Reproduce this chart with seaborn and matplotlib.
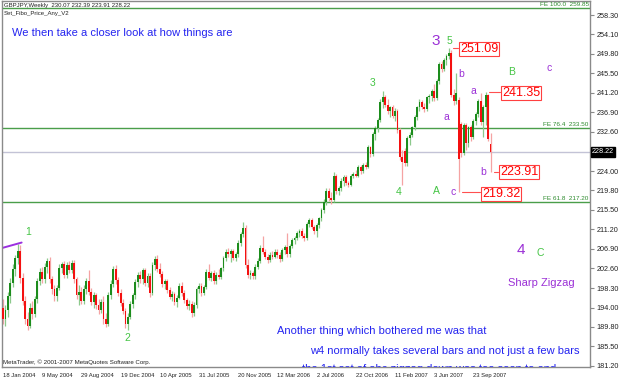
import numpy as np
import pandas as pd
import matplotlib
matplotlib.use("Agg")
import matplotlib.pyplot as plt
import seaborn as sns

# GBPJPY weekly candles, 18 Jan 2004 .. Nov 2007
opens = [194.0, 191.5, 193.5, 196.5, 199.5, 202.5, 204.8, 206.5, 200.5, 195.5,
         191.5, 190.0, 194.0, 192.5, 195.8, 199.8, 201.8, 200.2, 203.0, 204.3,
         200.3, 198.0, 196.5, 198.3, 202.8, 203.5, 201.2, 203.3, 202.2, 203.8,
         200.3, 196.8, 197.5, 195.5, 198.2, 199.8, 197.5, 195.2, 196.8, 194.5,
         193.5, 195.3, 191.5, 190.5, 196.8, 199.3, 202.5, 200.0, 197.3, 195.0,
         193.2, 190.3, 192.0, 194.8, 196.8, 199.6, 201.2, 200.2, 202.2, 199.5,
         200.9, 197.2, 203.3, 204.6, 202.4, 201.4, 199.2, 199.8, 197.8, 196.4,
         197.0, 195.2, 196.2, 198.8, 197.2, 195.6, 194.4, 194.9, 192.8, 194.6,
         198.0, 198.8, 197.2, 198.6, 201.8, 200.6, 201.6, 199.8, 201.2, 200.8,
         202.6, 204.8, 206.2, 205.8, 206.4, 205.0, 205.8, 208.2, 210.2, 211.6,
         203.4, 201.2, 201.6, 200.9, 203.0, 204.2, 207.2, 206.2, 205.2, 204.4,
         205.6, 205.2, 206.2, 205.6, 204.6, 206.6, 207.4, 205.8, 207.6, 208.8,
         209.4, 210.4, 210.8, 209.8, 209.2, 212.4, 213.2, 211.8, 210.8, 212.2,
         213.6, 215.4, 217.2, 219.6, 218.0, 217.6, 223.0, 219.6, 220.2, 221.8,
         222.6, 221.4, 221.0, 223.0, 223.4, 223.0, 225.0, 224.0, 225.4, 225.0,
         229.2, 227.8, 232.2, 233.4, 235.2, 239.2, 240.2, 238.6, 237.2, 238.0,
         236.2, 237.2, 233.0, 227.0, 228.4, 225.8, 231.2, 232.0, 233.6, 235.8,
         238.0, 239.2, 238.2, 237.6, 240.2, 240.6, 241.6, 240.0, 243.8, 247.6,
         246.4, 248.4, 249.2, 250.0, 240.8, 239.4, 239.6, 234.4, 228.0, 234.2,
         230.2, 233.6, 231.4, 235.0, 236.6, 239.4, 234.8, 238.0, 240.8, 230.07]
highs = [196.0, 194.5, 197.5, 200.5, 203.5, 205.5, 208.0, 207.8, 201.5, 196.5,
         193.0, 195.0, 195.5, 196.5, 200.5, 202.8, 203.0, 203.8, 205.0, 205.2,
         201.0, 199.0, 199.0, 203.5, 204.0, 204.2, 204.0, 204.2, 204.5, 204.5,
         200.8, 199.0, 198.5, 199.0, 200.5, 202.2, 198.3, 197.5, 197.3, 196.0,
         196.0, 196.5, 192.8, 197.5, 200.0, 203.2, 203.4, 200.8, 198.0, 196.0,
         194.0, 192.8, 195.5, 197.3, 200.3, 201.8, 202.0, 202.8, 202.6, 201.5,
         201.5, 204.0, 205.3, 205.5, 203.8, 202.0, 200.4, 200.2, 198.6, 197.6,
         197.4, 196.8, 199.4, 199.6, 197.8, 196.2, 195.6, 195.4, 195.2, 198.6,
         199.4, 199.4, 199.0, 202.4, 203.6, 202.0, 202.2, 201.8, 202.4, 203.0,
         205.4, 206.8, 207.2, 206.8, 206.8, 206.2, 208.8, 210.6, 212.8, 212.2,
         204.6, 202.2, 202.0, 203.6, 204.8, 207.8, 209.8, 206.8, 205.8, 206.2,
         206.4, 206.8, 206.8, 206.2, 207.0, 207.8, 210.4, 208.0, 209.4, 209.8,
         210.8, 211.2, 211.4, 210.4, 212.8, 213.8, 213.6, 212.2, 212.6, 214.0,
         215.8, 217.8, 220.2, 220.2, 219.4, 223.8, 223.4, 220.8, 222.4, 223.2,
         223.2, 221.8, 223.4, 223.8, 224.2, 225.4, 225.4, 225.8, 226.0, 229.8,
         229.6, 232.6, 234.0, 235.6, 239.8, 241.6, 240.8, 239.8, 238.4, 238.6,
         237.8, 237.6, 233.4, 228.6, 229.0, 231.8, 232.6, 234.0, 236.4, 238.4,
         239.8, 239.6, 239.0, 240.6, 241.0, 242.0, 243.2, 244.2, 248.0, 248.2,
         248.8, 249.8, 251.09, 250.6, 242.0, 245.5, 240.2, 234.8, 234.6, 234.6,
         234.0, 234.2, 235.4, 237.0, 239.8, 241.1, 238.6, 241.35, 241.0, 232.39]
lows = [190.3, 190.0, 192.0, 195.0, 198.5, 201.0, 203.5, 199.5, 194.5, 190.5,
        189.0, 189.5, 191.5, 192.0, 195.0, 199.0, 199.5, 199.5, 201.5, 199.5,
        197.0, 195.5, 195.5, 197.8, 201.5, 200.5, 200.5, 201.5, 201.5, 199.5,
        196.0, 194.5, 194.8, 194.8, 197.0, 196.8, 194.5, 194.0, 193.8, 192.5,
        192.8, 190.5, 189.8, 190.0, 196.0, 198.5, 199.3, 196.5, 194.3, 192.5,
        189.5, 189.0, 191.5, 194.0, 196.0, 198.5, 199.5, 199.3, 198.8, 198.5,
        196.3, 196.8, 202.3, 201.8, 200.8, 198.6, 198.0, 197.2, 195.8, 195.4,
        194.6, 194.2, 195.8, 196.6, 195.0, 193.8, 193.4, 192.0, 192.2, 194.0,
        197.2, 196.6, 196.8, 198.0, 200.0, 199.8, 199.2, 199.2, 200.2, 200.4,
        202.0, 204.2, 205.2, 204.0, 204.4, 204.2, 205.2, 207.6, 209.6, 202.8,
        200.6, 200.2, 200.4, 200.4, 202.4, 203.8, 205.8, 204.6, 203.8, 204.0,
        204.6, 204.8, 205.0, 204.0, 204.2, 205.8, 205.2, 205.2, 207.0, 208.0,
        208.8, 209.6, 209.2, 208.6, 208.8, 211.8, 211.2, 210.2, 209.6, 211.6,
        213.0, 214.8, 216.6, 217.4, 216.8, 217.2, 219.0, 218.8, 219.6, 220.8,
        221.0, 220.6, 220.8, 222.4, 222.6, 222.6, 223.4, 223.6, 224.4, 224.6,
        227.2, 227.4, 230.8, 232.6, 234.8, 237.8, 238.0, 236.6, 235.8, 235.6,
        235.0, 232.4, 226.4, 220.9, 225.2, 225.2, 229.8, 231.4, 233.0, 235.2,
        237.2, 237.6, 237.0, 237.2, 239.0, 239.4, 239.4, 239.6, 243.2, 245.8,
        246.0, 247.4, 248.6, 240.2, 238.6, 238.8, 219.32, 227.2, 227.6, 228.6,
        229.4, 230.6, 231.0, 234.2, 236.0, 234.2, 231.4, 234.2, 230.6, 223.91]
closes = [191.5, 193.5, 196.5, 199.5, 202.5, 204.8, 206.5, 200.5, 195.5, 191.5,
          190.0, 194.0, 192.5, 195.8, 199.8, 201.8, 200.2, 203.0, 204.3, 200.3,
          198.0, 196.5, 198.3, 202.8, 203.5, 201.2, 203.3, 202.2, 203.8, 200.3,
          196.8, 197.5, 195.5, 198.2, 199.8, 197.5, 195.2, 196.8, 194.5, 193.5,
          195.3, 191.5, 190.5, 196.8, 199.3, 202.5, 200.0, 197.3, 195.0, 193.2,
          190.3, 192.0, 194.8, 196.8, 199.6, 201.2, 200.2, 202.2, 199.5, 200.9,
          197.2, 203.3, 204.6, 202.4, 201.4, 199.2, 199.8, 197.8, 196.4, 197.0,
          195.2, 196.2, 198.8, 197.2, 195.6, 194.4, 194.9, 192.8, 194.6, 198.0,
          198.8, 197.2, 198.6, 201.8, 200.6, 201.6, 199.8, 201.2, 200.8, 202.6,
          204.8, 206.2, 205.8, 206.4, 205.0, 205.8, 208.2, 210.2, 211.6, 203.4,
          201.2, 201.6, 200.9, 203.0, 204.2, 207.2, 206.2, 205.2, 204.4, 205.6,
          205.2, 206.2, 205.6, 204.6, 206.6, 207.4, 205.8, 207.6, 208.8, 209.4,
          210.4, 210.8, 209.8, 209.2, 212.4, 213.2, 211.8, 210.8, 212.2, 213.6,
          215.4, 217.2, 219.6, 218.0, 217.6, 223.0, 219.6, 220.2, 221.8, 222.6,
          221.4, 221.0, 223.0, 223.4, 223.0, 225.0, 224.0, 225.4, 225.0, 229.2,
          227.8, 232.2, 233.4, 235.2, 239.2, 240.2, 238.6, 237.2, 238.0, 236.2,
          237.2, 233.0, 227.0, 226.0, 225.8, 231.2, 232.0, 233.6, 235.8, 238.0,
          239.2, 238.2, 237.6, 240.2, 240.6, 241.6, 240.0, 243.8, 247.6, 246.4,
          248.4, 249.2, 250.0, 240.8, 239.4, 241.2, 226.6, 228.0, 234.2, 230.2,
          233.6, 231.4, 235.0, 236.6, 239.4, 234.8, 238.0, 240.8, 231.0, 228.22]

fib_levels = [259.85, 233.50, 217.20]
fib_names = ['FE 100.0', 'FE 76.4', 'FE 61.8']
last_price = 228.22
price_ticks = [258.30, 254.10, 249.80, 245.50, 241.20, 236.90, 232.60, 224.00,
               219.80, 215.50, 211.20, 206.90, 202.60, 198.30, 194.00, 189.80,
               185.50, 181.20]
marked_prices = [251.09, 241.35, 223.91, 219.32]
trend_line = [207.1, 208.3]

df = pd.DataFrame({'open': opens, 'high': highs, 'low': lows, 'close': closes})
df['week'] = pd.date_range('2004-01-18', periods=len(df), freq='7D')
df['i'] = np.arange(len(df))
df['up'] = df['close'] >= df['open']

sns.set_style('white')
plt.rcParams['font.family'] = ['Liberation Sans', 'DejaVu Sans']

W, H = 625, 380
fig = plt.figure(figsize=(W / 100, H / 100), dpi=100)
ax = fig.add_axes([2 / W, 13 / H, 588 / W, 366 / H])
ax.set_xlim(-0.41, 239.6)
ax.set_ylim(180.95, 261.39)

def fp(x, y):
    # pixel position of the screenshot -> figure fraction
    return x / W, 1 - y / H

GREEN_LINE = '#4a9e4a'
for lvl, name in zip(fib_levels, fib_names):
    ax.axhline(lvl, color=GREEN_LINE, lw=1.0, zorder=1)
    ax.text(0.998, lvl + 0.25, f'{name}  {lvl:.2f}', transform=ax.get_yaxis_transform(),
            ha='right', va='bottom', fontsize=4.6, color='#2e8b2e')
ax.axhline(last_price, color='#c3c3d6', lw=1.0, zorder=1)

# candles
up = df[df['up']]
dn = df[~df['up']]
ax.vlines(up['i'], up['low'], up['high'], color='#8cc98c', lw=0.9, zorder=2)
ax.vlines(dn['i'], dn['low'], dn['high'], color='#f5a3a3', lw=0.9, zorder=2)
ax.bar(up['i'], up['close'] - up['open'], bottom=up['open'], width=0.75,
       color='#1c8c1c', linewidth=0, zorder=3)
ax.bar(dn['i'], dn['open'] - dn['close'], bottom=dn['close'], width=0.75,
       color='#f41010', linewidth=0, zorder=3)

# trend line at wave 1
sns.lineplot(x=[-0.4, 7.6], y=trend_line, color='#9b30e0', lw=1.4, ax=ax)

# axes look
for s in ax.spines.values():
    s.set_color('#8a8a8a')
    s.set_linewidth(1)
ax.yaxis.tick_right()
ax.set_yticks(price_ticks)
ax.set_yticklabels([f'{v:.2f}' for v in price_ticks])
xt = list(range(0, len(df), 16))
ax.set_xticks(xt)
ax.set_xticklabels([f"{d.day} {d.strftime('%b %Y')}" for d in df['week'].iloc[xt]],
                   ha='left')
ax.tick_params(axis='both', direction='out', length=3, width=0.8, color='#8a8a8a',
               labelsize=5.2, pad=1.5, labelcolor='#222222')
ax.tick_params(axis='x', labelsize=4.2, pad=1.0)
ax.set_xlabel('')
ax.set_ylabel('')

ax.text(1.003, last_price, f'{last_price:.2f}', transform=ax.get_yaxis_transform(),
        ha='left', va='center', fontsize=5.2, color='white',
        bbox=dict(facecolor='black', edgecolor='black', pad=0.8))

# header / footer texts
fig.text(*fp(4, 5), 'GBPJPY,Weekly  230.07 232.39 223.91 228.22', fontsize=4.3,
         va='center', color='#222222')
fig.text(*fp(4, 13), 'Set_Fibo_Price_Any_V2', fontsize=4.3, va='center', color='#222222')
fig.text(*fp(3, 362), 'MetaTrader, \u00a9 2001-2007 MetaQuotes Software Corp.',
         fontsize=4.4, va='center', color='#222222')

BLUE = '#2424f0'
ax.text(*fp(12, 33), 'We then take a closer look at how things are', transform=fig.transFigure,
        fontsize=8, color=BLUE, va='center')
ax.text(*fp(277, 331), 'Another thing which bothered me was that', transform=fig.transFigure,
        fontsize=8, color=BLUE, va='center')
ax.text(*fp(310, 351), 'w4 normally takes several bars and not just a few bars',
        transform=fig.transFigure, fontsize=8, color=BLUE, va='center')
ax.text(*fp(302, 369), 'the 1st set of abc zigzag down was too soon to end',
        transform=fig.transFigure, fontsize=8, color=BLUE, va='center', clip_on=True)
ax.text(*fp(508, 283), 'Sharp Zigzag', transform=fig.transFigure,
        fontsize=8, color='#9b30d6', va='center')

# wave labels
LG = '#44c444'
PU = '#9b30d6'
waves = [('1', 28, 232, LG, 7.5), ('2', 127, 338, LG, 7.5), ('3', 373, 83, LG, 7.5),
         ('4', 399, 192, LG, 7.5), ('5', 449, 41, LG, 7.5), ('A', 436, 191, LG, 7.5),
         ('B', 512, 72, LG, 7.5), ('C', 540, 253, LG, 7.5),
         ('3', 436, 41, PU, 11), ('4', 521, 250, PU, 11),
         ('a', 446, 117, PU, 7.5), ('b', 461, 74, PU, 7.5), ('c', 453, 192, PU, 7.5),
         ('a', 473, 91, PU, 7.5), ('b', 483, 172, PU, 7.5), ('c', 549, 68, PU, 7.5)]
for t, x, y, c, fs in waves:
    fig.text(*fp(x, y), t, color=c, fontsize=fs, ha='center', va='center')

# price marks
boxes = [(460, 49), (502, 93), (500, 172), (482, 194)]
for p, (bx, by) in zip(marked_prices, boxes):
    fig.text(*fp(bx, by), f'{p:.2f}', color='#ff0000', fontsize=9, ha='left', va='center',
             bbox=dict(facecolor='white', edgecolor='#ff4040', pad=0.6, lw=0.8))
    bar_i = df.index[(df['high'] == p) | (df['low'] == p)][0]
    xb = (bx - 1 - 3) / 2.454
    ax.plot([bar_i + 1.5, xb], [p, p], color='#ff5050', lw=0.8, zorder=4)

fig.savefig('out.png', dpi=100)
